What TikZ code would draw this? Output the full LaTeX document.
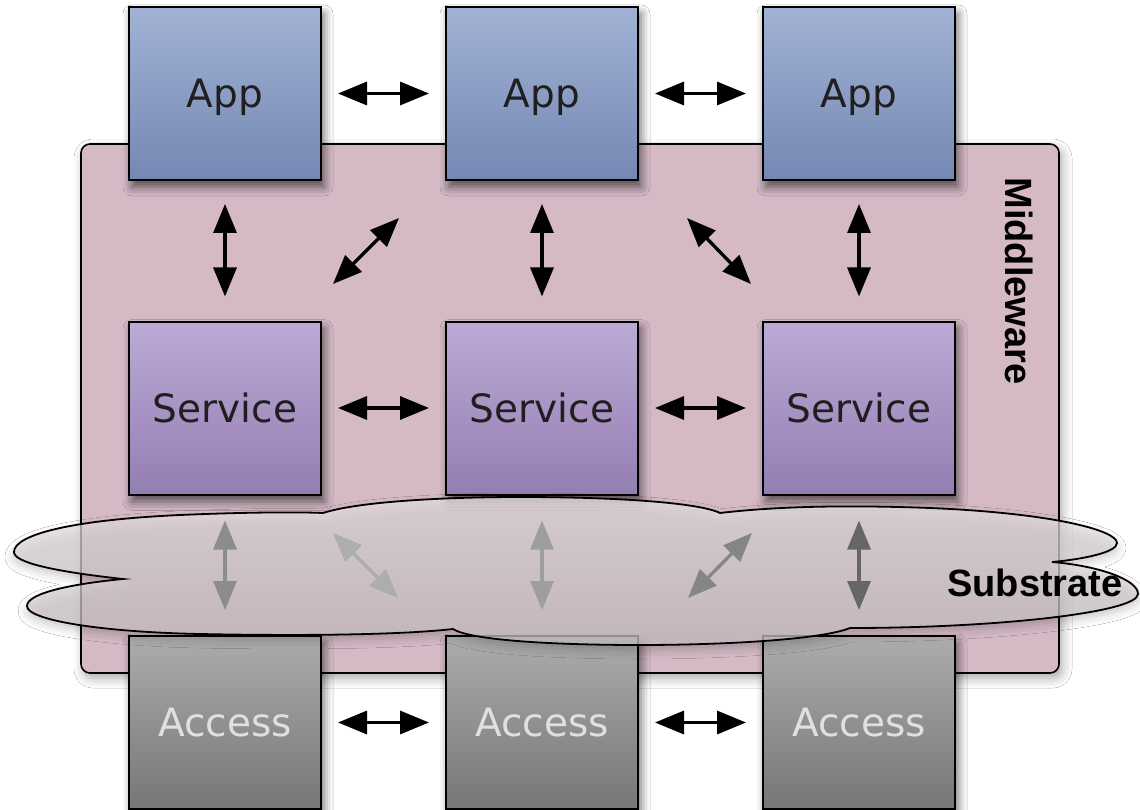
\documentclass[tikz,border=0pt]{standalone}
\usepackage{fontspec}
\newfontfamily\dejavu{DejaVu Sans}
\newfontfamily\helv{Liberation Sans}
\usetikzlibrary{arrows.meta,shadows.blur}
\definecolor{apptop}{RGB}{162,178,212}
\definecolor{appbot}{RGB}{116,136,180}
\definecolor{svctop}{RGB}{188,170,214}
\definecolor{svcbot}{RGB}{148,126,178}
\definecolor{acctop}{RGB}{172,172,172}
\definecolor{accbot}{RGB}{118,118,118}
\definecolor{mwfill}{RGB}{213,186,198}
\definecolor{cloudtop}{RGB}{232,226,229}
\definecolor{cloudbot}{RGB}{205,196,200}
\definecolor{acctext}{RGB}{224,224,224}
\tikzset{
  box/.style={draw=black, line width=2pt, minimum width=192pt, minimum height=173pt,
    inner sep=0pt, text height=28.5pt, text depth=0pt, font=\dejavu\fontsize{39}{46}\selectfont,
    blur shadow={shadow xshift=3pt, shadow yshift=-7pt, shadow blur radius=9pt, shadow opacity=60}},
  appbox/.style={box, top color=apptop, bottom color=appbot, text=black!88},
  svcbox/.style={box, top color=svctop, bottom color=svcbot, text=black!88},
  accbox/.style={box, top color=acctop, bottom color=accbot, text=acctext},
  link/.style={line width=3.3pt, {Triangle[length=29pt,width=23pt]}-{Triangle[length=29pt,width=23pt]}},
  hlink/.style={link, shorten <=16pt, shorten >=16pt},
  vlink/.style={link, shorten <=23pt, shorten >=24pt},
  slink/.style={link, shorten <=25pt, shorten >=25pt},
  biglabel/.style={font=\helv\bfseries\fontsize{38}{44}\selectfont, text=black, inner sep=0pt},
}
\begin{document}
\begin{tikzpicture}[x=1pt,y=-1pt]
\useasboundingbox (0,0) rectangle (1140,810);
\fill[white] (0,0) rectangle (1140,810);

% middleware panel
\node[draw=black, line width=1.6pt, fill=mwfill, rounded corners=9pt,
      minimum width=978pt, minimum height=529pt, inner sep=0pt,
      blur shadow={shadow xshift=3pt, shadow yshift=-5pt, shadow blur radius=10pt, shadow opacity=35}]
      (mw) at (570,408.5) {};
\node[biglabel, rotate=-90] (mwlabel) at (1019,281) {Middleware};

% boxes
\node[appbox] (a1) at (225,93.5) {App};
\node[appbox] (a2) at (542,93.5) {App};
\node[appbox] (a3) at (859,93.5) {App};
\node[svcbox] (s1) at (225,408) {Service};
\node[svcbox] (s2) at (542,408) {Service};
\node[svcbox] (s3) at (859,408) {Service};
\node[accbox] (c1) at (225,722.5) {Access};
\node[accbox] (c2) at (542,722.5) {Access};
\node[accbox] (c3) at (859,722.5) {Access};

% horizontal links
\draw[hlink] (a1.east) -- (a2.west);
\draw[hlink] (a2.east) -- (a3.west);
\draw[hlink] (s1.east) -- (s2.west);
\draw[hlink] (s2.east) -- (s3.west);
\draw[hlink] (c1.east) -- (c2.west);
\draw[hlink] (c2.east) -- (c3.west);

% vertical app-service links
\draw[vlink] (a1.south) -- (s1.north);
\draw[vlink] (a2.south) -- (s2.north);
\draw[vlink] (a3.south) -- (s3.north);

% diagonal app-service links
\coordinate (d1a) at (333,284);
\coordinate (d1b) at (399,218);
\coordinate (d2a) at (687,218);
\coordinate (d2b) at (751,284);
\draw[link] (d1a) -- (d1b);
\draw[link] (d2a) -- (d2b);

% substrate cloud
\path[draw=black, line width=1.8pt, top color=cloudtop, bottom color=cloudbot, fill opacity=0.72,
      blur shadow={shadow xshift=0pt, shadow yshift=-5pt, shadow blur radius=9pt, shadow opacity=22}]
  (123,579) .. controls (50,571) and (14,562) .. (14,552)
  .. controls (14,535) and (70,520) .. (180,515)
  .. controls (250,512) and (300,512) .. (323,513)
  .. controls (360,501) and (450,497) .. (520,497)
  .. controls (620,497) and (700,503) .. (720,513)
  .. controls (780,506) and (850,505) .. (930,508)
  .. controls (1050,513) and (1117,530) .. (1117,543)
  .. controls (1117,552) and (1085,559) .. (1052,562)
  .. controls (1100,566) and (1138,580) .. (1138,594)
  .. controls (1138,612) and (1000,628) .. (850,628)
  .. controls (820,640) and (720,645) .. (640,645)
  .. controls (550,645) and (470,640) .. (453,629)
  .. controls (400,635) and (300,636) .. (200,634)
  .. controls (100,632) and (27,620) .. (27,606)
  .. controls (27,592) and (80,583) .. (123,579) -- cycle;

% substrate links
\coordinate (e1a) at (333,533);
\coordinate (e1b) at (398,598);
\coordinate (e2a) at (688,598);
\coordinate (e2b) at (752,533);
\draw[slink, draw=black!45, fill=black!45] (s1.south) -- (c1.north);
\draw[link, draw=black!32, fill=black!32] (e1a) -- (e1b);
\draw[slink, draw=black!38, fill=black!38] (s2.south) -- (c2.north);
\draw[link, draw=black!48, fill=black!48] (e2a) -- (e2b);
\draw[slink, draw=black!60, fill=black!60] (s3.south) -- (c3.north);

\node[biglabel] (sub) at (1035,583) {Substrate};
\end{tikzpicture}
\end{document}
